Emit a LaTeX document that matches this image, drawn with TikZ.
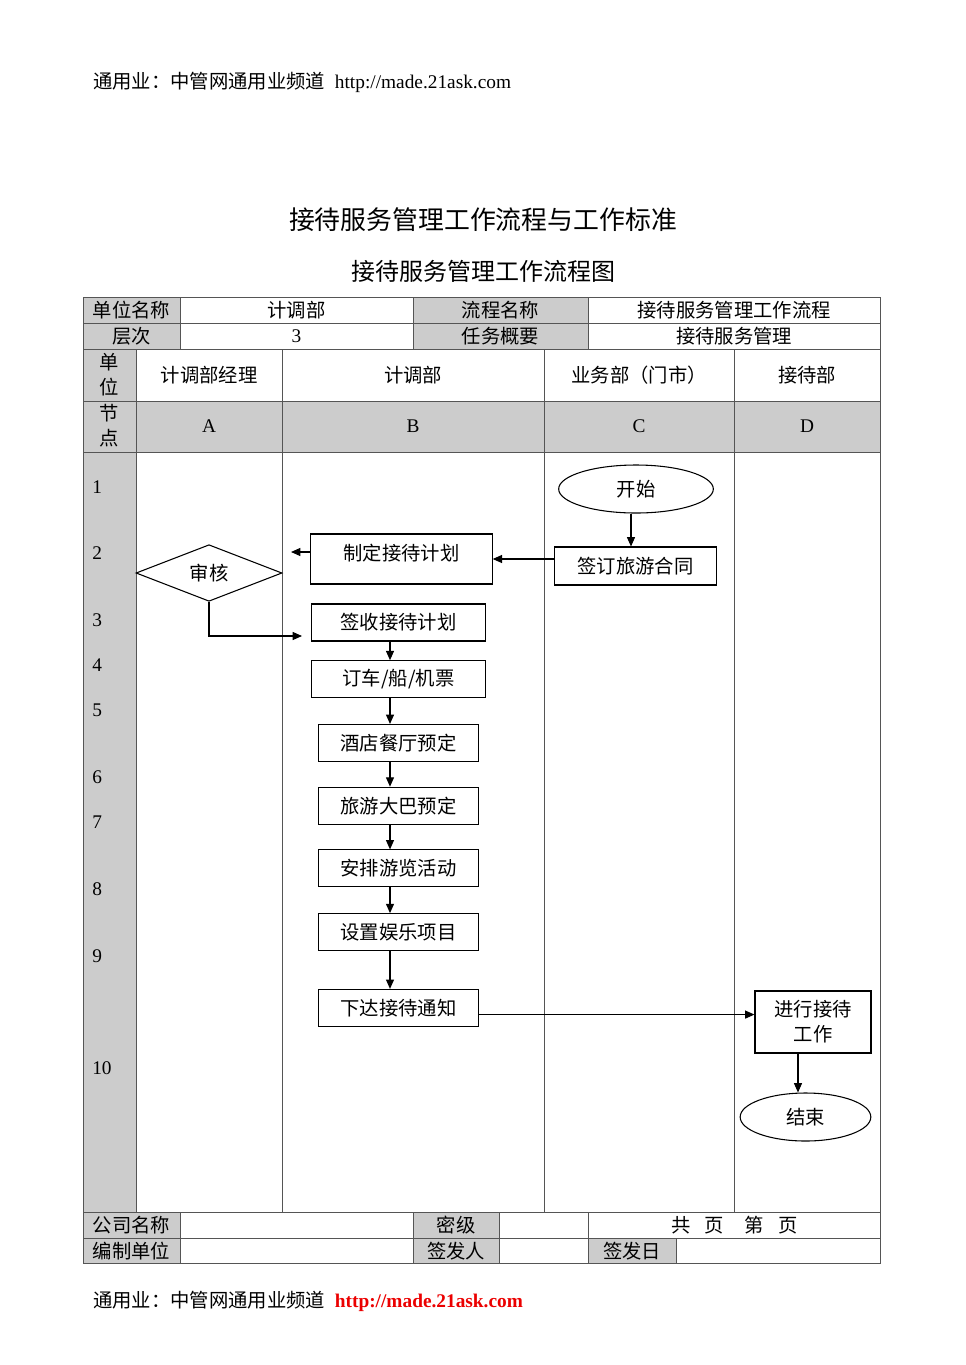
\documentclass[tikz,border=0pt]{standalone}
\usepackage{fontspec}
\setmainfont{Noto Sans CJK SC}
\newfontfamily\lat{Liberation Serif}
\usetikzlibrary{shapes,arrows.meta,positioning}
\definecolor{cellgray}{RGB}{204,204,204}
\definecolor{tabline}{RGB}{85,85,85}
\definecolor{linkred}{RGB}{235,0,0}

\begin{document}
\begin{tikzpicture}[x=0.75pt,y=-0.75pt,>={Triangle[length=7pt,width=6pt]},
            font=\fontsize{14.5}{18.75}\selectfont,
            box/.style={rectangle,draw,line width=0.8pt,inner sep=0pt,
             minimum width=120pt,minimum height=27.75pt},
            term/.style={ellipse,draw,line width=0.8pt,inner sep=0pt,minimum height=36pt},
            decide/.style={diamond,draw,line width=0.8pt,inner sep=0pt,
             minimum width=109.5pt,minimum height=37.5pt},
            rule/.style={draw=tabline,line width=0.6pt},
            txt/.style={inner sep=0pt}]

    \useasboundingbox (0,0) rectangle (965,1365);

    % page texts
    \node[txt,anchor=west] (head) at (93,82) {通用业：中管网通用业频道\enspace{\lat http://made.21ask.com}};
    \node[txt,font=\fontsize{19.4}{22}\selectfont] (title) at (483,220) {接待服务管理工作流程与工作标准};
    \node[txt,font=\fontsize{18}{22}\selectfont] (subtitle) at (483,271) {接待服务管理工作流程图};
    \node[txt,anchor=west] (foot) at (93,1301) {通用业：中管网通用业频道\enspace{\lat\bfseries\color{linkred}http://made.21ask.com}};

    % table shading
    \fill[cellgray] (83,297) rectangle (180,349);
    \fill[cellgray] (413,297) rectangle (588,349);
    \fill[cellgray] (83,349) rectangle (136,1212);
    \fill[cellgray] (136,401) rectangle (880,452);
    \fill[cellgray] (83,1212) rectangle (180,1263);
    \fill[cellgray] (413,1212) rectangle (499,1263);
    \fill[cellgray] (588,1238) rectangle (676,1263);

    % table rules
    \path[rule] (83,297) rectangle (880,1263);
    \foreach \y in {323,349,401,452,1212,1238}
        \path[rule] (83,\y) -- (880,\y);
    \foreach \x in {180,413,588}
        \path[rule] (\x,297) -- (\x,349);
    \foreach \x in {136,282,544,734}
        \path[rule] (\x,349) -- (\x,1212);
    \foreach \x in {180,413,499,588}
        \path[rule] (\x,1212) -- (\x,1263);
    \path[rule] (676,1238) -- (676,1263);

    % table header texts
    \node[txt] (unitname) at (131.5,310) {单位名称};
    \node[txt] (unit) at (296.5,310) {计调部};
    \node[txt] (procname) at (500.5,310) {流程名称};
    \node[txt] (proc) at (734,310) {接待服务管理工作流程};
    \node[txt] (levelname) at (131.5,336) {层次};
    \node[txt] (level) at (296.5,336) {\lat 3};
    \node[txt] (taskname) at (500.5,336) {任务概要};
    \node[txt] (task) at (734,336) {接待服务管理};
    \node[txt,align=center] (danwei) at (109.5,375) {单\\位};
    \node[txt,align=center] (jiedian) at (109.5,426) {节\\点};
    \node[txt] (laneA) at (209,375) {计调部经理};
    \node[txt] (laneB) at (413,375) {计调部};
    \node[txt] (laneC) at (639,375) {业务部（门市）};
    \node[txt] (laneD) at (807,375) {接待部};
    \node[txt] (nodeA) at (209,426) {\lat A};
    \node[txt] (nodeB) at (413,426) {\lat B};
    \node[txt] (nodeC) at (639,426) {\lat C};
    \node[txt] (nodeD) at (807,426) {\lat D};

    % step numbers
    \foreach \n/\y in {1/487,2/553,3/620,4/665,5/710,6/777,7/822,8/889,9/956,10/1068}
        \node[txt,anchor=west] (n\n) at (92,\y) {\lat\n};

    % footer texts
    \node[txt] (company) at (131.5,1225) {公司名称};
    \node[txt] (secret) at (456,1225) {密级};
    \node[txt] (pages) at (734.5,1225) {共\hspace{10.5pt}页\hspace{15.75pt}第\hspace{10.5pt}页};
    \node[txt] (maker) at (131.5,1251) {编制单位};
    \node[txt] (signer) at (456,1251) {签发人};
    \node[txt] (signdate) at (632,1251) {签发日};

    % flow nodes
    \node[term,minimum width=116pt] (start) at (636,489) {开始};
    \node[box,minimum width=121pt,minimum height=28.5pt] (contract) at (635.5,566) {签订旅游合同};
    \node[box,minimum width=136pt,minimum height=37.5pt,text depth=10pt] (plan) at (401.5,559) {制定接待计划};
    \node[decide] (review) at (209,573) {审核};
    \node[box,minimum width=131pt] (sign) at (398.5,622.5) {签收接待计划};
    \node[box,minimum width=131pt] (ticket) [below=14pt of sign] {订车/船/机票};
    \node[box] (hotel) [below=19.25pt of ticket] {酒店餐厅预定};
    \node[box] (bus) [below=18.5pt of hotel] {旅游大巴预定};
    \node[box] (tour) [below=18.5pt of bus] {安排游览活动};
    \node[box] (fun) [below=19.25pt of tour] {设置娱乐项目};
    \node[box] (notify) [below=28.25pt of fun] {下达接待通知};
    \node[box,minimum width=87pt,minimum height=46.5pt,align=center] (work) at (813,1022) {进行接待\\工作};
    \node[term,minimum width=98pt] (finish) at (805.5,1117) {结束};

    \coordinate (planout) at (291,552);
    \coordinate (reviewout) at (302,636);
    \coordinate (chainx) at (390,0);
    \coordinate (startx) at (631,0);
    \coordinate (endx) at (798,0);

    \foreach \a/\b in {sign/ticket,ticket/hotel,hotel/bus,bus/tour,tour/fun,fun/notify}
        \draw[->,line width=0.8pt] (\a.south -| chainx) -- (\b.north -| chainx);

    \draw[->,line width=0.8pt] (start.south -| startx) -- (contract.north -| startx);
    \draw[->,line width=0.8pt] (contract.west |- plan) -- (plan.east);
    \draw[->,line width=0.8pt] (plan.west |- planout) -- (planout);
    \draw[->,line width=0.8pt] (review.south) |- (reviewout);
    \draw[->,line width=0.8pt] ([yshift=-5pt]notify.east) -- ([yshift=-5pt]notify.east -| work.west);
    \draw[->,line width=0.8pt] (work.south -| endx) -- (finish.north -| endx);

\end{tikzpicture}
\end{document}
